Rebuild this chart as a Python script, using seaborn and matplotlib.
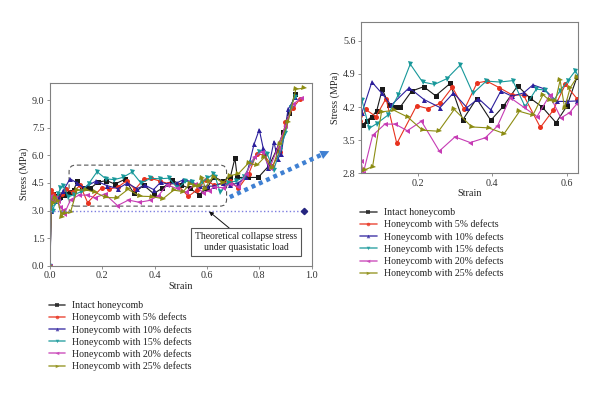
import pandas as pd
import matplotlib.pyplot as plt
import seaborn as sns
from matplotlib.patches import FancyBboxPatch, FancyArrowPatch
from matplotlib.lines import Line2D

# Data
labels = ['Intact honeycomb', 'Honeycomb with 5% defects', 'Honeycomb with 10% defects',
          'Honeycomb with 15% defects', 'Honeycomb with 20% defects', 'Honeycomb with 25% defects']

strain_intact = [0, 0.005, 0.012, 0.02, 0.03, 0.04, 0.052, 0.063, 0.077, 0.090, 0.105, 0.123, 0.139,
                 0.153, 0.184, 0.216, 0.248, 0.287, 0.321, 0.358, 0.396, 0.430, 0.468, 0.500, 0.534,
                 0.571, 0.600, 0.627, 0.66, 0.69, 0.707, 0.716, 0.758, 0.796, 0.838, 0.866, 0.892,
                 0.915, 0.936]
stress_intact = [0, 3.6, 3.9, 3.7, 3.8, 3.75, 3.82, 3.91, 4.0, 4.12, 4.58, 4.24, 4.2, 4.2, 4.54, 4.63,
                 4.44, 4.70, 3.93, 4.38, 3.92, 4.22, 4.65, 4.40, 4.2, 3.87, 4.22, 4.83, 4.6, 4.85,
                 5.85, 4.8, 4.8, 4.8, 5.45, 6.3, 7.25, 8.3, 9.36]

strain_d5 = [0, 0.004, 0.01, 0.02, 0.03, 0.045, 0.0605, 0.088, 0.115, 0.144, 0.197, 0.227, 0.260,
             0.293, 0.325, 0.359, 0.385, 0.419, 0.453, 0.484, 0.529, 0.563, 0.596, 0.627, 0.66, 0.69,
             0.72, 0.76, 0.79, 0.82, 0.85, 0.88, 0.90, 0.93, 0.955]
stress_d5 = [0, 4.1, 3.9, 3.75, 3.7, 3.9, 4.15, 4.0, 4.38, 3.43, 4.23, 4.17, 4.28, 4.62, 4.15, 4.71,
             4.75, 4.61, 4.46, 4.45, 3.77, 4.13, 4.68, 4.38, 4.5, 4.6, 4.2, 5.0, 6.1, 6.0, 5.4, 6.2,
             7.8, 8.6, 9.05]

strain_d10 = [0, 0.005, 0.012, 0.02, 0.035, 0.05, 0.077, 0.104, 0.129, 0.177, 0.217, 0.260, 0.296,
              0.332, 0.363, 0.396, 0.423, 0.453, 0.484, 0.509, 0.538, 0.573, 0.600, 0.627, 0.66,
              0.69, 0.72, 0.75, 0.78, 0.80, 0.815, 0.835, 0.856, 0.87, 0.884, 0.91, 0.937]
stress_d10 = [0, 2.95, 3.6, 3.5, 3.7, 4.07, 4.73, 4.49, 4.24, 4.61, 4.36, 4.19, 4.50, 4.19, 4.38,
              4.14, 4.54, 4.43, 4.50, 4.67, 4.59, 4.32, 4.32, 4.33, 4.5, 4.4, 4.5, 4.85, 6.6, 7.4,
              6.4, 5.3, 6.75, 5.8, 6.1, 8.5, 9.15]

strain_d15 = [0, 0.004, 0.01, 0.02, 0.03, 0.04, 0.05, 0.070, 0.090, 0.120, 0.148, 0.180, 0.213,
              0.245, 0.278, 0.314, 0.348, 0.384, 0.420, 0.455, 0.488, 0.518, 0.542, 0.564, 0.582,
              0.602, 0.623, 0.632, 0.65, 0.68, 0.71, 0.74, 0.77, 0.80, 0.83, 0.855, 0.88, 0.90,
              0.92, 0.935]
stress_d15 = [0, 3.2, 3.0, 3.4, 3.9, 4.2, 4.36, 3.75, 3.85, 4.03, 4.46, 5.11, 4.73, 4.68, 4.80, 5.09,
              4.49, 4.75, 4.73, 4.76, 4.21, 4.58, 4.56, 4.33, 4.55, 4.75, 4.97, 4.83, 4.0, 4.5,
              4.6, 4.8, 5.6, 6.2, 6.1, 5.2, 6.3, 7.2, 8.6, 9.2]

strain_d20 = [0, 0.005, 0.012, 0.02, 0.03, 0.04, 0.048, 0.054, 0.079, 0.112, 0.140, 0.172, 0.210,
              0.258, 0.300, 0.341, 0.381, 0.414, 0.448, 0.484, 0.520, 0.554, 0.584, 0.607, 0.627,
              0.66, 0.69, 0.72, 0.75, 0.78, 0.81, 0.84, 0.87, 0.90, 0.93, 0.96]
stress_d20 = [0, 3.8, 3.6, 3.7, 3.5, 3.2, 3.05, 2.8, 3.6, 3.84, 3.84, 3.7, 3.9, 3.27, 3.57, 3.45,
              3.55, 3.80, 4.40, 4.2, 4.0, 4.45, 3.97, 4.08, 4.27, 4.25, 4.45, 4.3, 5.0, 5.9, 6.2,
              5.3, 6.4, 7.6, 8.8, 9.1]

strain_d25 = [0, 0.005, 0.012, 0.02, 0.03, 0.045, 0.05, 0.06, 0.079, 0.103, 0.137, 0.173, 0.213,
              0.256, 0.298, 0.345, 0.390, 0.432, 0.473, 0.509, 0.536, 0.554, 0.569, 0.582, 0.594,
              0.609, 0.627, 0.66, 0.69, 0.72, 0.76, 0.79, 0.82, 0.85, 0.88, 0.91, 0.94, 0.97]
stress_d25 = [0, 3.3, 3.4, 3.7, 3.5, 2.66, 2.84, 2.88, 2.94, 4.1, 4.13, 3.99, 3.71, 3.69, 4.15, 3.78,
              3.76, 3.64, 4.11, 4.03, 4.46, 4.34, 4.32, 4.77, 4.18, 4.61, 4.83, 4.5, 4.9, 5.0, 5.6,
              5.45, 5.9, 5.3, 6.6, 7.8, 9.6, 9.65]

theory_stress = 3.0
theory_strain = [0, 0.97]

colors = ['#1a1a1a', '#e8321e', '#2c1f9c', '#17989a', '#c63cb4', '#8c8c12']
markers = ['s', 'o', '^', 'v', '<', '>']

strains = [strain_intact, strain_d5, strain_d10, strain_d15, strain_d20, strain_d25]
stresses = [stress_intact, stress_d5, stress_d10, stress_d15, stress_d20, stress_d25]

df = pd.concat([pd.DataFrame({'Strain': s, 'Stress': t, 'Sample': lab})
                for s, t, lab in zip(strains, stresses, labels)], ignore_index=True)

# Style
sns.set_style('white')
plt.rcParams['font.family'] = ['Liberation Serif', 'DejaVu Serif']
plt.rcParams['axes.edgecolor'] = '#808080'
plt.rcParams['axes.linewidth'] = 0.8

fig = plt.figure(figsize=(6, 3.99), dpi=100)
ax1 = fig.add_axes([0.0833, 0.334, 0.436, 0.4587])
ax2 = fig.add_axes([0.6017, 0.5657, 0.3617, 0.3792])

palette = dict(zip(labels, colors))
marker_map = dict(zip(labels, markers))

for ax in (ax1, ax2):
    sns.lineplot(data=df, x='Strain', y='Stress', hue='Sample', style='Sample',
                 palette=palette, markers=marker_map, dashes=False, estimator=None,
                 sort=False, linewidth=0.8, markersize=3.6, markeredgewidth=0,
                 legend=False, ax=ax)
    ax.set_xlabel('Strain', fontsize=7.3, labelpad=1)
    ax.set_ylabel('Stress (MPa)', fontsize=7.3, labelpad=2)
    ax.tick_params(labelsize=7.3, length=2, width=0.6, color='#808080', pad=2,
                   labelcolor='#333333', bottom=True, left=True)

# theoretical collapse stress line
ax1.plot(theory_strain, [theory_stress] * 2, ls=':', color='#7d7de0', lw=1.0)
ax1.plot(theory_strain[-1:], [theory_stress], marker='D', ms=3.2, color='#262680', ls='none')

ax1.set_xlim(0, 1.0)
ax1.set_ylim(0, 9.95)
ax1.set_xticks([0, 0.2, 0.4, 0.6, 0.8, 1.0])
ax1.set_yticks([0, 1.5, 3.0, 4.5, 6.0, 7.5, 9.0])
ax1.xaxis.set_major_formatter(plt.FormatStrFormatter('%.1f'))
ax1.yaxis.set_major_formatter(plt.FormatStrFormatter('%.1f'))

ax2.set_xlim(0.048, 0.63)
ax2.set_ylim(2.8, 6.0)
ax2.set_xticks([0.2, 0.4, 0.6])
ax2.set_yticks([2.8, 3.5, 4.2, 4.9, 5.6])
ax2.xaxis.set_major_formatter(plt.FormatStrFormatter('%.1f'))
ax2.yaxis.set_major_formatter(plt.FormatStrFormatter('%.1f'))

# dashed rounded box around the plateau region
box = FancyBboxPatch((0.073, 3.24), 0.602, 2.23,
                     boxstyle='round,pad=0,rounding_size=0.025', mutation_aspect=14.2,
                     fc='none', ec='#555555', lw=0.8, ls=(0, (4, 2.5)))
ax1.add_patch(box)

ax1.annotate('Theoretical collapse stress\nunder quasistatic load',
             xy=(0.608, 2.95), xytext=(0.75, 1.29), ha='center', va='center',
             fontsize=6.9, color='#222222',
             bbox=dict(boxstyle='square,pad=0.4', fc='white', ec='#555555', lw=0.8),
             arrowprops=dict(arrowstyle='-|>', color='#111111', lw=0.7,
                             shrinkA=0, shrinkB=0, mutation_scale=6))

# big dotted blue arrow linking the two plots
fig.add_artist(Line2D([0.383, 0.537], [0.506, 0.613], transform=fig.transFigure,
                      color='#3f80d2', lw=3.2, dashes=(0.9, 0.9)))
fig.add_artist(FancyArrowPatch((0.530, 0.608), (0.553, 0.624), transform=fig.transFigure,
                               arrowstyle='-|>', mutation_scale=16, color='#3f80d2', lw=0))

# legends
handles = [Line2D([], [], color=c, marker=m, lw=1.2, alpha=0.75, ms=2.6, markeredgewidth=0)
           for c, m in zip(colors, markers)]
for xa, ya in [(0.081, 0.245), (0.600, 0.478)]:
    fig.legend(handles, labels, loc='upper left', bbox_to_anchor=(xa, ya), frameon=False,
               fontsize=7.1, labelspacing=0.25, handlelength=1.7, handletextpad=0.7,
               borderpad=0, borderaxespad=0, labelcolor='#222222')

fig.savefig('out.png', dpi=100)
